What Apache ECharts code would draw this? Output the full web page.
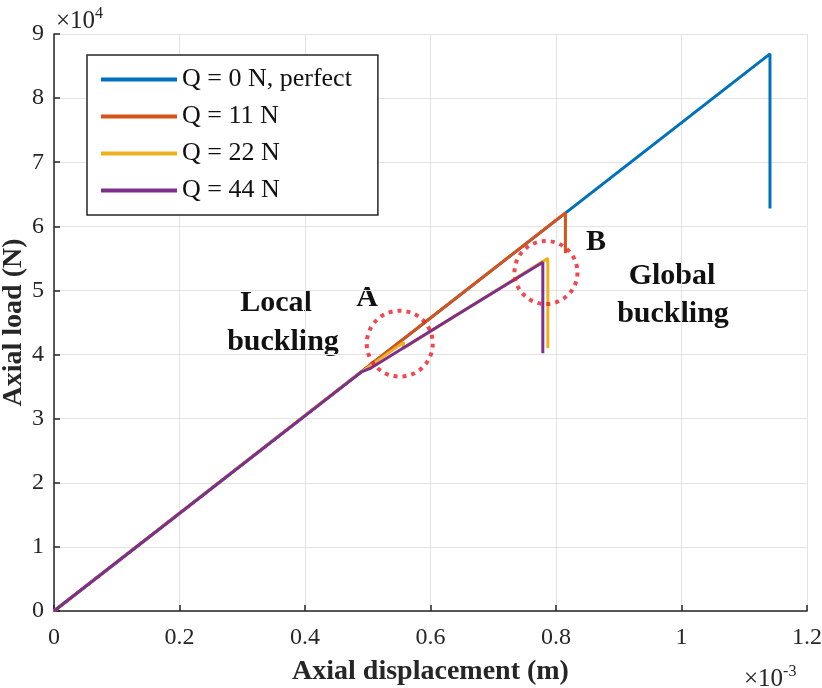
<!DOCTYPE html>
<html>
<head>
<meta charset="utf-8">
<script src="https://cdn.jsdelivr.net/npm/echarts@6/dist/echarts.min.js"></script>
<style>html,body{margin:0;padding:0;background:#fff}#c{width:822px;height:688px}</style>
</head>
<body>
<div id="c"></div>
<script>
// Axial displacement in units of 1e-3 m, axial load in units of 1e4 N
const seriesNames = ['Q = 0 N, perfect', 'Q = 11 N', 'Q = 22 N', 'Q = 44 N'];
const q0 = [[0, 0], [1.141, 8.69], [1.141, 6.28]];
const q11 = [[0, 0], [0.815, 6.21], [0.815, 5.58]];
const q22 = [[0, 0], [0.48, 3.66], [0.557, 4.19], [0.557, 4.10], [0.787, 5.50], [0.787, 4.10]];
const q44 = [[0, 0], [0.49, 3.73], [0.505, 3.79], [0.639, 4.60], [0.779, 5.44], [0.779, 4.02]];
const circleCenters = [[0.551, 4.17], [0.784, 5.28]];
const xTicks = [0, 0.2, 0.4, 0.6, 0.8, 1, 1.2];
const yTicks = [0, 1, 2, 3, 4, 5, 6, 7, 8, 9];
const colors = ['#0072BD', '#D95319', '#EDB120', '#7E2F8E'];

const FONT = '"Liberation Serif", "Times New Roman", serif';
const chart = echarts.init(document.getElementById('c'));
const datasets = [q0, q11, q22, q44];
const bold = (t, x, y, size) => ({ type: 'text', x: x, y: y, style: { text: t, fontSize: size, fontWeight: 'bold', fontFamily: FONT, fill: '#111', align: 'center', verticalAlign: 'middle' } });
const sup = { fontSize: 16, verticalAlign: 'top', padding: [0, 0, 14, 0], fontFamily: FONT, fill: '#262626' };

chart.setOption({
  animation: false,
  textStyle: { fontFamily: FONT },
  grid: { left: 54, right: 15, top: 34, bottom: 77, containLabel: false, outerBoundsMode: 'none' },
  xAxis: {
    type: 'value', min: xTicks[0], max: xTicks[xTicks.length - 1], interval: 0.2,
    name: 'Axial displacement (m)', nameLocation: 'middle', nameGap: 47, nameMoveOverlap: false,
    nameTextStyle: { fontFamily: FONT, fontSize: 28, fontWeight: 'bold', color: '#262626' },
    axisLine: { lineStyle: { color: '#262626', width: 1.5 } },
    axisTick: { inside: true, length: 6, lineStyle: { color: '#262626', width: 1.5 } },
    axisLabel: { fontFamily: FONT, fontSize: 24, color: '#262626', margin: 15 },
    splitLine: { show: true, lineStyle: { color: '#e3e3e3', width: 1 } }
  },
  yAxis: {
    type: 'value', min: yTicks[0], max: yTicks[yTicks.length - 1], interval: 1,
    name: 'Axial load (N)', nameLocation: 'middle', nameGap: 26, nameRotate: 90, nameMoveOverlap: false,
    nameTextStyle: { fontFamily: FONT, fontSize: 28, fontWeight: 'bold', color: '#262626' },
    axisLine: { lineStyle: { color: '#262626', width: 1.5 } },
    axisTick: { inside: true, length: 6, lineStyle: { color: '#262626', width: 1.5 } },
    axisLabel: { fontFamily: FONT, fontSize: 24, color: '#262626', margin: 10 },
    splitLine: { show: true, lineStyle: { color: '#e3e3e3', width: 1 } }
  },
  legend: {
    data: seriesNames,
    orient: 'vertical', left: 87, top: 55,
    icon: 'rect', itemWidth: 76, itemHeight: 4, itemGap: 10,
    padding: [11, 26, 11, 14],
    backgroundColor: '#fff', borderColor: '#262626', borderWidth: 1.5,
    textStyle: { fontFamily: FONT, fontSize: 26, color: '#111', lineHeight: 27 }
  },
  series: datasets.map((d, i) => ({
    name: seriesNames[i], type: 'line', data: d, symbol: 'none',
    color: colors[i], lineStyle: { color: colors[i], width: 3 }, z: 2 + i
  })).concat([{
    name: 'circles', type: 'scatter', data: circleCenters, symbol: 'circle',
    symbolSize: (v, p) => p.dataIndex === 0 ? 66 : 63,
    itemStyle: { color: 'transparent', borderColor: '#ee1c25', borderWidth: 4, borderType: [4, 5] },
    z: 10, silent: true
  }]),
  graphic: [
    { type: 'text', left: 56, top: 6, style: { text: '×10{s|4}', rich: { s: sup }, fontSize: 25, fontFamily: FONT, fill: '#262626' } },
    { type: 'text', left: 744, top: 664, style: { text: '×10{s|-3}', rich: { s: sup }, fontSize: 25, fontFamily: FONT, fill: '#262626' } },
    bold('Local', 276, 303, 30),
    bold('buckling', 283, 342, 30),
    bold('A', 367, 298, 30),
    bold('B', 596, 242, 30),
    bold('Global', 672, 276, 30),
    bold('buckling', 673, 314, 30)
  ]
});
</script>
</body>
</html>
